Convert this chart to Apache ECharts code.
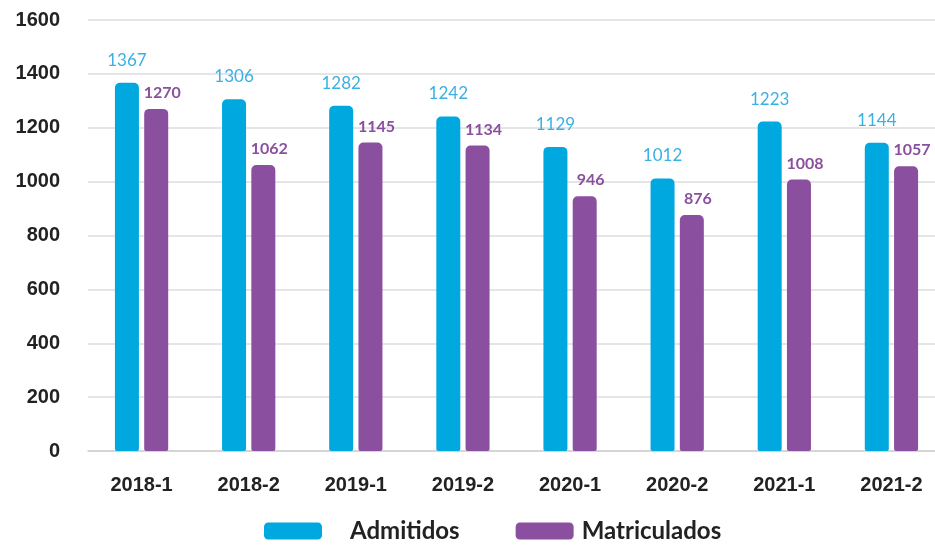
<!DOCTYPE html>
<html>
<head>
<meta charset="utf-8">
<script src="https://cdn.jsdelivr.net/npm/echarts@6/dist/echarts.min.js"></script>
<style>
  html, body { margin: 0; padding: 0; background: #fff; }
  #chart { width: 935px; height: 545px; }
</style>
</head>
<body>
<div id="chart"></div>
<script>
const categories = ['2018-1', '2018-2', '2019-1', '2019-2', '2020-1', '2020-2', '2021-1', '2021-2']
const admitidos = [1367, 1306, 1282, 1242, 1129, 1012, 1223, 1144]
const matriculados = [1270, 1062, 1145, 1134, 946, 876, 1008, 1057]

const FONT = 'Lato, "Noto Sans", sans-serif'
const AXIS_FONT = '"Liberation Sans", Arial, sans-serif'
const BLUE = '#00a8e0'
const PURPLE = '#8a4f9e'

const chart = echarts.init(document.getElementById('chart'))
chart.setOption({
    animation: false,
    textStyle: { fontFamily: FONT },
    grid: { left: 88, right: -10, top: 20, bottom: 94, containLabel: false, outerBoundsMode: 'none' },
    legend: {
        bottom: -3,
        left: 259,
        itemWidth: 58,
        itemHeight: 17,
        itemGap: 56,
        icon: 'roundRect',
        textStyle: { fontFamily: FONT, fontSize: 24, fontWeight: 'bold', color: '#222' },
        data: [
            { name: 'Admitidos', textStyle: { padding: [0, 0, 0, 23] } },
            { name: 'Matriculados', textStyle: { padding: [0, 0, 0, 3] } }
        ]
    },
    xAxis: {
        type: 'category',
        data: categories,
        axisTick: { show: false },
        axisLine: { lineStyle: { color: '#d0d0d0', width: 1.5 } },
        axisLabel: { margin: 24, fontSize: 20, fontWeight: 'bold', color: '#222', fontFamily: AXIS_FONT }
    },
    yAxis: {
        type: 'value',
        min: 0,
        max: 1600,
        interval: 200,
        axisLine: { show: false },
        axisTick: { show: false },
        splitLine: { lineStyle: { color: '#dcdcdc', width: 1.5 } },
        axisLabel: {
            margin: 28, fontSize: 20, fontWeight: 'bold', color: '#222', fontFamily: AXIS_FONT,
            formatter: v => String(v)
        }
    },
    series: [
        {
            name: 'Admitidos',
            type: 'bar',
            data: admitidos,
            barWidth: 24,
            barGap: '22%',
            itemStyle: { color: BLUE, borderRadius: [5, 5, 2, 2] },
            label: { show: true, position: 'top', distance: 14, color: '#3ab0e4', fontSize: 17, fontFamily: FONT }
        },
        {
            name: 'Matriculados',
            type: 'bar',
            data: matriculados,
            barWidth: 24,
            barGap: '22%',
            itemStyle: { color: PURPLE, borderRadius: [5, 5, 2, 2] },
            label: { show: true, position: 'top', distance: 8, offset: [6, 0], color: PURPLE, fontSize: 16, fontWeight: 'bold', fontFamily: FONT }
        }
    ]
})
</script>
</body>
</html>
